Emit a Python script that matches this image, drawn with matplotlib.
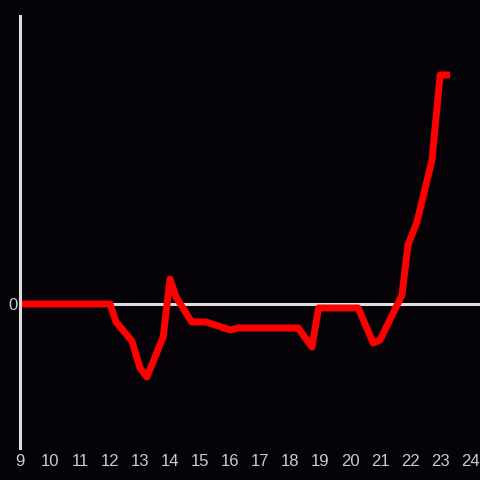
import matplotlib.pyplot as plt

plt.rcParams['font.family'] = ['Liberation Sans', 'DejaVu Sans']

# hour of day and value (arbitrary units)
hours = [9.0, 12.0, 12.2, 12.73, 13.0, 13.23, 13.77, 14.0, 14.2, 14.72, 15.2,
         16.0, 16.27, 18.27, 18.73, 18.95, 20.27, 20.77, 21.0, 21.73, 21.93,
         22.23, 22.73, 23.0, 23.33]
values = [0.0, 0.0, -1.8, -3.7, -6.4, -7.3, -3.3, 2.5, 0.7, -1.8, -1.8,
          -2.6, -2.4, -2.4, -4.3, -0.4, -0.4, -3.9, -3.6, 0.9, 5.9,
          8.2, 14.4, 22.9, 22.9]
xticks = list(range(9, 25))

bg = '#050307'
fg = '#dddddd'
label_col = '#cccccc'

fig = plt.figure(figsize=(4.8, 4.8), dpi=100, facecolor=bg)
ax = fig.add_axes([20 / 480, 32 / 480, 460 / 480, 432 / 480], facecolor=bg)

# zero line under the series
ax.axhline(0, color=fg, linewidth=2.2, zorder=1)
ax.plot(hours, values, color='#ff0000', linewidth=5, solid_joinstyle='round',
        solid_capstyle='butt', zorder=2)

ax.set_xlim(9, 24.33)
ax.set_ylim(-14.4, 28.8)

ax.set_xticks(xticks)
ax.set_xticklabels([str(t) for t in xticks])
ax.set_yticks([0])
ax.set_yticklabels(['0'])
ax.tick_params(length=0, colors=label_col, labelsize=12)
ax.tick_params(axis='x', pad=4)
ax.tick_params(axis='y', pad=2)

for side in ['top', 'right', 'bottom']:
    ax.spines[side].set_visible(False)
ax.spines['left'].set_color(fg)
ax.spines['left'].set_linewidth(2.2)

fig.savefig('out.png', dpi=100, facecolor=bg)
